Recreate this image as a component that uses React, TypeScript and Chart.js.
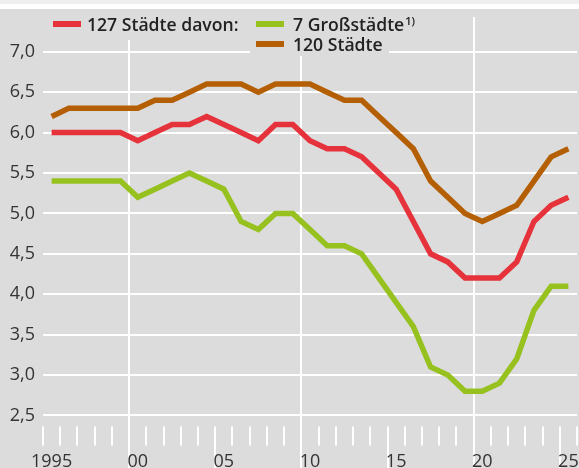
import { useEffect, useRef } from "react";
import { Chart, registerables } from "chart.js";

Chart.register(...registerables);

const years = [
  "1995", "1996", "1997", "1998", "1999", "2000", "2001", "2002", "2003", "2004",
  "2005", "2006", "2007", "2008", "2009", "2010", "2011", "2012", "2013", "2014",
  "2015", "2016", "2017", "2018", "2019", "2020", "2021", "2022", "2023", "2024", "2025",
];
const xTickLabels: Record<string, string> = {
  "1995": "1995", "2000": "00", "2005": "05", "2010": "10", "2015": "15", "2020": "20", "2025": "25",
};
const cities127 = [
  6.0, 6.0, 6.0, 6.0, 6.0, 5.9, 6.0, 6.1, 6.1, 6.2,
  6.1, 6.0, 5.9, 6.1, 6.1, 5.9, 5.8, 5.8, 5.7, 5.5,
  5.3, 4.9, 4.5, 4.4, 4.2, 4.2, 4.2, 4.4, 4.9, 5.1, 5.2,
];
const bigCities7 = [
  5.4, 5.4, 5.4, 5.4, 5.4, 5.2, 5.3, 5.4, 5.5, 5.4,
  5.3, 4.9, 4.8, 5.0, 5.0, 4.8, 4.6, 4.6, 4.5, 4.2,
  3.9, 3.6, 3.1, 3.0, 2.8, 2.8, 2.9, 3.2, 3.8, 4.1, 4.1,
];
const cities120 = [
  6.2, 6.3, 6.3, 6.3, 6.3, 6.3, 6.4, 6.4, 6.5, 6.6,
  6.6, 6.6, 6.5, 6.6, 6.6, 6.6, 6.5, 6.4, 6.4, 6.2,
  6.0, 5.8, 5.4, 5.2, 5.0, 4.9, 5.0, 5.1, 5.4, 5.7, 5.8,
];
const yTicks = [2.5, 3.0, 3.5, 4.0, 4.5, 5.0, 5.5, 6.0, 6.5, 7.0];
const gridYears = ["2000", "2010", "2020"];
const longTickYears = ["2005", "2015", "2025"];

const RED = "#e6323a";
const GREEN = "#96c11e";
const BROWN = "#b45f04";
const BG = "#dcdcdc";
const FONT = "'Open Sans', 'Noto Sans', sans-serif";

const decorPlugin = {
  id: "decor",
  beforeDraw(chart: any) {
    const { ctx, width, height } = chart;
    ctx.save();
    ctx.fillStyle = BG;
    ctx.fillRect(0, 0, width, height);
    ctx.fillStyle = "#ffffff";
    ctx.fillRect(0, 0, width, 9);
    ctx.fillStyle = "#efefef";
    ctx.fillRect(0, 0, width, 4);
    ctx.restore();
  },
  afterDraw(chart: any) {
    const { ctx, chartArea } = chart;
    const xs = chart.scales.x;
    const ys = chart.scales.y;
    const half = (xs.getPixelForValue(1) - xs.getPixelForValue(0)) / 2;
    const base = ys.getPixelForValue(2.5);
    ctx.save();
    // year tick marks
    ctx.strokeStyle = "#ffffff";
    ctx.lineWidth = 2;
    for (let i = 0; i <= years.length; i++) {
      const yr = i < years.length ? years[i] : "next";
      if (gridYears.includes(yr)) continue;
      const x = Math.round(xs.getPixelForValue(Math.min(i, years.length - 1)) + (i < years.length ? -half : half));
      const long = longTickYears.includes(yr);
      ctx.beginPath();
      ctx.moveTo(x, base + 11);
      ctx.lineTo(x, long ? chartArea.bottom : base + 30);
      ctx.stroke();
    }
    // x labels
    ctx.fillStyle = "#333333";
    ctx.font = `18px ${FONT}`;
    ctx.textAlign = "center";
    ctx.textBaseline = "alphabetic";
    years.forEach((yr, i) => {
      const lab = xTickLabels[yr];
      if (!lab) return;
      ctx.fillText(lab, xs.getPixelForValue(i), base + 52);
    });
    // legend
    ctx.fillStyle = BG;
    ctx.fillRect(45, 9, 206, 31);
    ctx.fillRect(250, 9, 139, 47);
    const sw = (c: string, x: number, y: number) => {
      ctx.fillStyle = c;
      ctx.fillRect(x, y, 28, 6);
    };
    sw(RED, 53, 21);
    sw(GREEN, 256, 21);
    sw(BROWN, 256, 41);
    ctx.fillStyle = "#222222";
    ctx.textAlign = "left";
    ctx.font = `600 17.6px ${FONT}`;
    ctx.fillText("127 Städte davon:", 87, 31);
    ctx.fillText("7 Großstädte", 293, 31);
    const w = ctx.measureText("7 Großstädte").width;
    ctx.fillText("120 Städte", 293, 51);
    ctx.font = `600 11px ${FONT}`;
    ctx.fillText("1)", 293 + w + 1, 25);
    ctx.restore();
  },
};

export default function App() {
  const ref = useRef<HTMLCanvasElement>(null);
  useEffect(() => {
    if (!ref.current) return;
    const lineDs = (label: string, data: number[], color: string) => ({
      label,
      data,
      borderColor: color,
      backgroundColor: color,
      borderWidth: 5.5,
      pointRadius: 0,
      tension: 0,
      fill: false,
    });
    const chart = new Chart(ref.current, {
      type: "line",
      data: {
        labels: years,
        datasets: [
          lineDs("7 Großstädte", bigCities7, GREEN),
          lineDs("127 Städte", cities127, RED),
          lineDs("120 Städte", cities120, BROWN),
        ],
      },
      options: {
        responsive: false,
        animation: false,
        events: [],
        layout: { padding: { top: 17, left: 0, right: 2, bottom: 0 } },
        plugins: { legend: { display: false }, tooltip: { enabled: false } },
        scales: {
          x: {
            type: "category",
            offset: true,
            border: { display: false },
            grid: {
              offset: true,
              drawTicks: false,
              lineWidth: 2,
              color: (ctx: any) =>
                ctx.index < years.length && gridYears.includes(years[ctx.index]) ? "#ffffff" : "rgba(0,0,0,0)",
            },
            ticks: { display: false },
            afterFit: (axis: any) => {
              axis.height = 0;
              axis.paddingLeft = 0;
              axis.paddingRight = 0;
            },
          },
          y: {
            min: 1.85,
            max: 7.43,
            border: { display: false },
            afterBuildTicks: (axis: any) => {
              axis.ticks = yTicks.map((v) => ({ value: v }));
            },
            afterFit: (axis: any) => {
              axis.width = 43;
              axis.paddingTop = 0;
              axis.paddingBottom = 0;
            },
            grid: { color: "#ffffff", lineWidth: 2, drawTicks: false },
            ticks: {
              padding: 8,
              color: "#333333",
              font: { family: FONT, size: 18 },
              callback: (v: any) => Number(v).toFixed(1).replace(".", ","),
            },
          },
        },
      },
      plugins: [decorPlugin],
    });
    return () => chart.destroy();
  }, []);
  return (
    <div style={{ position: "fixed", left: 0, top: 0, width: 579, height: 468 }}>
      <canvas ref={ref} width={579} height={468} style={{ display: "block" }} />
    </div>
  );
}
